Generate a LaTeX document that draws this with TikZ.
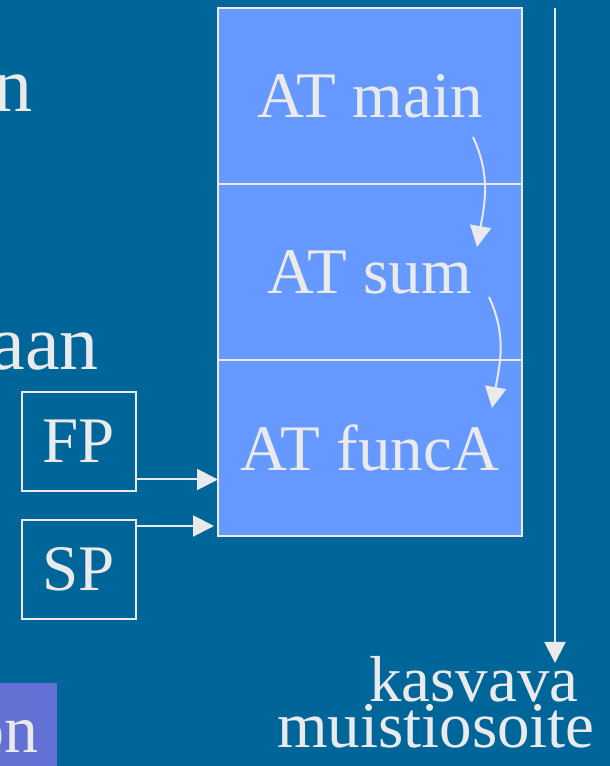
\documentclass[tikz,border=0pt]{standalone}
\usepackage{fontspec}
\setmainfont{Liberation Serif}
\usetikzlibrary{arrows.meta,positioning}
\definecolor{slideblue}{RGB}{0,102,153}
\definecolor{cellblue}{RGB}{102,153,255}
\definecolor{chalk}{RGB}{234,234,234}
\definecolor{lilac}{RGB}{99,112,212}
\begin{document}
\begin{tikzpicture}
[
    x=1pt, y=1pt,
    every node/.style={text=chalk, font=\fontsize{65}{46}\selectfont, inner sep=0pt},
    body/.style={font=\fontsize{78}{90}\selectfont, anchor=base east},
    cell/.style={draw=chalk, line width=2pt, fill=cellblue, minimum width=304pt, minimum height=176pt, outer sep=0pt},
    reg/.style={draw=chalk, line width=2pt, minimum width=114pt, minimum height=99pt},
    link/.style={draw=chalk, line width=2pt, -{Triangle[length=21pt,width=21pt]}},
]
\useasboundingbox (0,0) rectangle (610,766);
\fill[slideblue] (0,0) rectangle (610,766);
\clip (0,0) rectangle (610,766);
\node[body] (lefttop) at (33,654) {n};
\node[body] (leftmid) at (99,396) {aan};
\fill[lilac] (-10,-10) rectangle (57,83);
\node[body, font=\fontsize{68}{80}\selectfont] (leftbot) at (39,13) {on};
\node[cell] (main) at (370,670) {AT main};
\node[cell, below=0pt of main] (sum) {AT sum};
\node[cell, below=0pt of sum] (funcA) {AT funcA};
\node[reg] (fp) at (79,324.5) {FP};
\node[reg] (sp) at (79,196.5) {SP};
\coordinate (top) at (555,758);
\coordinate (bottom) at (555,103);
\node[anchor=base east, align=right] (grow) at (595,19) {kasvava\hspace{0.25em}\mbox{}\\muistiosoite};
\draw[link] (top) -- (bottom);
\draw[link] ([yshift=-38pt]fp.east) -- ([yshift=-38pt]fp.east -| funcA.west);
\draw[link] ([yshift=-7pt]sp.north east) -- ([xshift=-4pt,yshift=-7pt]sp.north east -| funcA.west);
\draw[link] ([shift={(-49pt,47pt)}]main.south east) to[out=-65,in=80] ([shift={(-45pt,-63pt)}]sum.north east);
\draw[link] ([shift={(-33pt,63pt)}]sum.south east) to[out=-65,in=80] ([shift={(-30pt,-48pt)}]funcA.north east);
\end{tikzpicture}
\end{document}
